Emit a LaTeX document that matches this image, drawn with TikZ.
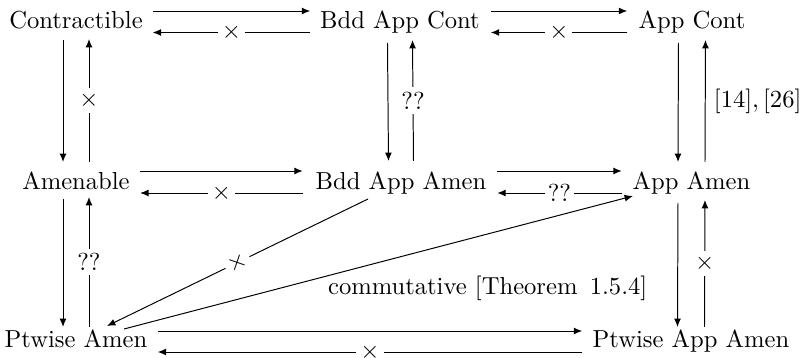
\documentclass[tikz,border=0pt]{standalone}
\usetikzlibrary{arrows.meta}
\begin{document}
\begin{tikzpicture}[x=0.4065pt,y=-0.4065pt,
  obj/.style={inner sep=0pt, outer sep=0pt, anchor=base},
  ar/.style={-{Latex[length=3.4pt,width=2.8pt]}, line width=0.4pt},
  lab/.style={fill=white, inner xsep=1.6pt, inner ysep=1.8pt},
]
\useasboundingbox (0,0) rectangle (809,358);
% objects
\node[obj] (c)  at (76,29)    {Contractible};
\node[obj] (bc) at (400,29)   {Bdd App Cont};
\node[obj] (ac) at (692,29)   {App Cont};
\node[obj] (a)  at (76,190)   {Amenable};
\node[obj] (ba) at (401,190)  {Bdd App Amen};
\node[obj] (aa) at (691.5,190){App Amen};
\node[obj] (p)  at (76,348)   {Ptwise Amen};
\node[obj] (pa) at (691,348)  {Ptwise App Amen};
% top row
\draw[ar] ([shift={(10,-18)}]c.base east) -- ([shift={(-10,-18)}]bc.base west);
\draw[ar] ([shift={(-10,3.5)}]bc.base west) -- node[lab]{$\times$} ([shift={(10,3.5)}]c.base east);
\draw[ar] ([shift={(11,-18)}]bc.base east) -- ([shift={(-11.5,-18)}]ac.base west);
\draw[ar] ([shift={(-11.5,3.5)}]ac.base west) -- node[lab]{$\times$} ([shift={(11,3.5)}]bc.base east);
% middle row
\draw[ar] ([shift={(10.5,-19)}]a.base east) -- ([shift={(-13,-19)}]ba.base west);
\draw[ar] ([shift={(-13,3)}]ba.base west) -- node[lab]{$\times$} ([shift={(10.5,3)}]a.base east);
\draw[ar] ([shift={(11,-19)}]ba.base east) -- ([shift={(-11,-19)}]aa.base west);
\draw[ar] ([shift={(-11,3)}]aa.base west) -- node[lab, inner xsep=1pt]{??} ([shift={(11,3)}]ba.base east);
% bottom row
\draw[ar] ([shift={(10.5,-17)}]p.base east) -- ([shift={(-10.5,-17)}]pa.base west);
\draw[ar] ([shift={(-10.5,4)}]pa.base west) -- node[lab]{$\times$} ([shift={(10.5,4)}]p.base east);
% left column
\draw[ar] ([shift={(-13,11)}]c.base) -- ([shift={(-13,-28)}]a.base);
\draw[ar] ([shift={(13,-28)}]a.base) -- node[lab]{$\times$} ([shift={(13,10)}]c.base);
\draw[ar] ([shift={(-13,9)}]a.base) -- ([shift={(-13,-21)}]p.base);
\draw[ar] ([shift={(13,-21)}]p.base) -- node[lab]{??} ([shift={(13,7)}]a.base);
% middle column
\draw[ar] ([shift={(-12.5,14)}]bc.base) -- ([shift={(-12.5,-29)}]ba.base);
\draw[ar] ([shift={(12.5,-29)}]ba.base) -- node[lab]{??} ([shift={(12.5,11)}]bc.base);
% right column
\draw[ar] ([shift={(-13.5,14)}]ac.base) -- ([shift={(-13.5,-28)}]aa.base);
\draw[ar] ([shift={(13.5,-28)}]aa.base) -- node[right]{$[14],[26]$} ([shift={(13.5,11)}]ac.base);
\draw[ar] ([shift={(-13.5,13)}]aa.base) -- ([shift={(-13.5,-21)}]pa.base);
\draw[ar] ([shift={(13.5,-21)}]pa.base) -- node[lab]{$\times$} ([shift={(13.5,10)}]aa.base);
% diagonals
\draw[ar] ([shift={(-33,9)}]ba.base) -- node[lab, sloped, inner xsep=1.5pt, inner ysep=0.5pt]{$\times$} ([shift={(31,-22)}]p.base);
\draw[ar] ([shift={(48,-19)}]p.base) -- node[pos=0.4, anchor=north west, inner sep=0pt]{commutative [Theorem\hspace{5pt}1.5.4]} ([shift={(-58.5,6)}]aa.base);
\end{tikzpicture}
\end{document}
